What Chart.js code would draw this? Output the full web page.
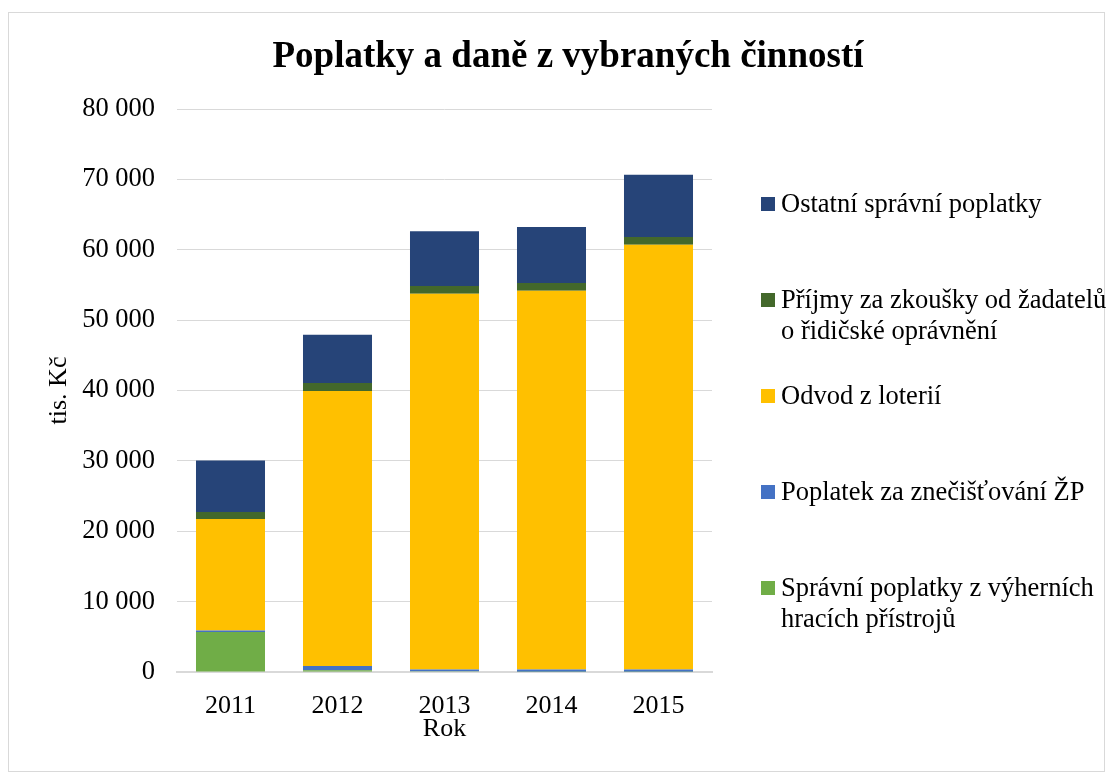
<!DOCTYPE html>
<html>
<head>
<meta charset="utf-8">
<script src="https://cdn.jsdelivr.net/npm/chart.js@4"></script>
<style>
  html, body { margin: 0; padding: 0; background: #fff; }
  #wrap { position: relative; width: 1113px; height: 782px; font-family: "Liberation Serif", "Times New Roman", serif; }
  #frame { position: absolute; left: 8px; top: 12px; width: 1097px; height: 760px; border: 1px solid #d9d9d9; box-sizing: border-box; }
  #chartBox { position: absolute; left: 0; top: 0; width: 1113px; height: 782px; }
  #title { position: absolute; left: 268px; width: 600px; top: 33px; text-align: center; font-size: 37px; font-weight: bold; line-height: 44px; color: #000; white-space: nowrap; }
  #legend { position: absolute; left: 0; top: 0; }
  .item { position: absolute; left: 761px; font-size: 26.5px; line-height: 31px; color: #000; white-space: nowrap; }
  .item .sw { position: absolute; left: 0; top: 9px; width: 14px; height: 14px; }
  .item .tx { margin-left: 20px; }
</style>
</head>
<body>
<div id="wrap">
  <div id="frame"></div>
  <div id="chartBox"><canvas id="chartPoplatky"></canvas></div>
  <div id="title">Poplatky a daně z vybraných činností</div>
  <div id="legend"></div>
</div>
<script>
// --- Data (tis. Kč) ---
const roky = ['2011', '2012', '2013', '2014', '2015'];
const spravniVHP = [5700, 250, 100, 50, 50];
const poplatekZP = [200, 600, 250, 300, 300];
const odvodLoterie = [15840, 39080, 53410, 53830, 60370];
const zkouskyRidici = [1000, 1140, 1090, 1095, 1090];
const ostatniPoplatky = [7300, 6860, 7770, 7955, 8860];
const yTicks = [0, 10000, 20000, 30000, 40000, 50000, 60000, 70000, 80000];

const nazvy = [
    ['Správní poplatky z výherních', 'hracích přístrojů'],
    ['Poplatek za znečišťování ŽP'],
    ['Odvod z loterií'],
    ['Příjmy za zkoušky od žadatelů', 'o řidičské oprávnění'],
    ['Ostatní správní poplatky']
];
const barvy = ['#70ad47', '#4472c4', '#ffc000', '#43682b', '#264478'];

function formatCislo(v) {
    return String(v).replace(/\B(?=(\d{3})+(?!\d))/g, ' ');
}

const serif = "'Liberation Serif', 'Times New Roman', serif";
Chart.defaults.font.family = serif;
Chart.defaults.color = '#000';

const ctx = document.getElementById('chartPoplatky');
const data = [spravniVHP, poplatekZP, odvodLoterie, zkouskyRidici, ostatniPoplatky];

const chart = new Chart(ctx, {
    type: 'bar',
    data: {
        labels: roky,
        datasets: data.map(function (d, i) {
            return {
                label: nazvy[i].join(' '),
                data: d,
                backgroundColor: barvy[i],
                borderWidth: 0,
                categoryPercentage: 1.0,
                barPercentage: 0.645
            };
        })
    },
    options: {
        responsive: true,
        maintainAspectRatio: false,
        animation: false,
        layout: { padding: { left: 44, right: 401, top: 109, bottom: 37 } },
        plugins: {
            legend: { display: false },
            tooltip: { enabled: false }
        },
        scales: {
            x: {
                stacked: true,
                grid: { display: false, drawTicks: false },
                border: { color: '#d9d9d9', width: 2 },
                ticks: { font: { size: 26 }, padding: 19 },
                title: { display: true, text: 'Rok', font: { size: 26 }, padding: 0 },
                afterFit: function (axis) { axis.height = 73; }
            },
            y: {
                stacked: true,
                min: 0,
                max: 80000,
                afterBuildTicks: function (axis) {
                    axis.ticks = yTicks.map(function (v) { return { value: v }; });
                },
                grid: { color: '#d9d9d9', lineWidth: 1, drawTicks: false },
                border: { display: false },
                ticks: {
                    font: { size: 26.5 },
                    padding: 22,
                    callback: function (v) { return formatCislo(v); }
                },
                title: { display: true, text: 'tis. Kč', font: { size: 26 }, padding: 0 },
                afterFit: function (axis) { axis.width = 133; }
            }
        }
    }
});

// --- HTML legenda (obracene poradi jako v Excelu) ---
const legendTops = [188, 284, 380, 476, 572];
const legend = document.getElementById('legend');
for (let k = 0; k < nazvy.length; k++) {
    const i = nazvy.length - 1 - k;
    const el = document.createElement('div');
    el.className = 'item';
    el.style.top = legendTops[k] + 'px';
    el.innerHTML = '<span class="sw" style="background:' + barvy[i] + '"></span>' +
        '<div class="tx">' + nazvy[i].join('<br>') + '</div>';
    legend.appendChild(el);
}
</script>
</body>
</html>
